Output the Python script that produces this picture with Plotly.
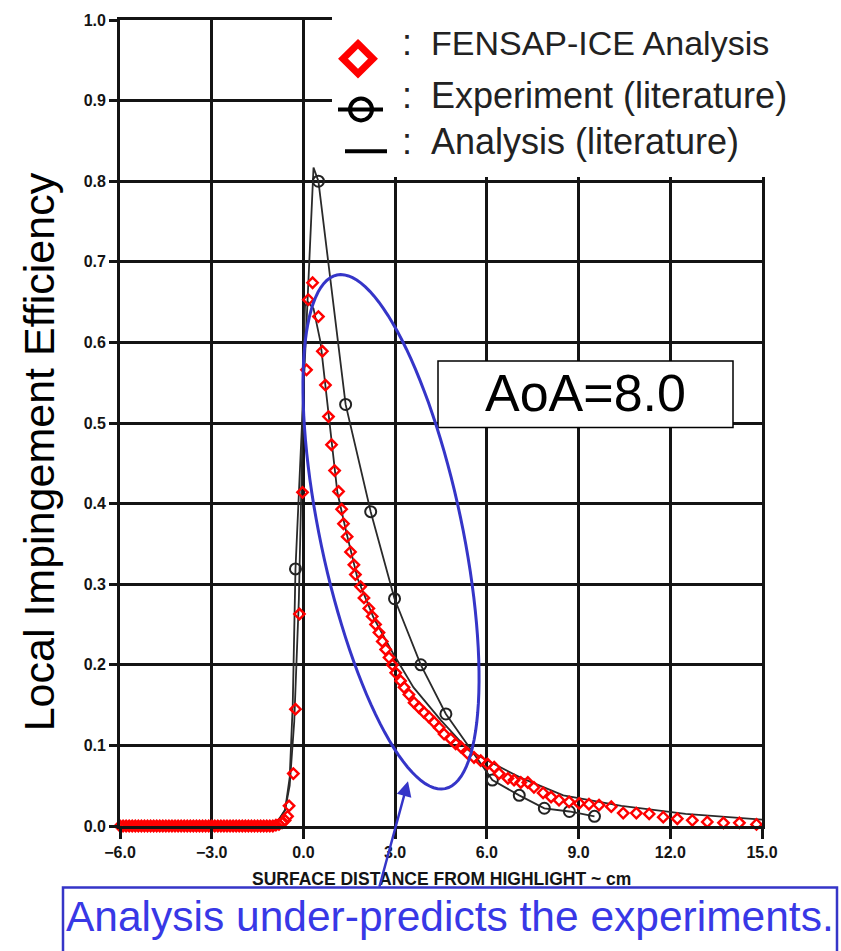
import math
import plotly.graph_objects as go

# ---------------- data ----------------
fensap_x = [-6.0, -5.9, -5.8, -5.7, -5.6, -5.5, -5.4, -5.3, -5.2, -5.1, -5.0, -4.9, -4.8, -4.7,
            -4.6, -4.5, -4.4, -4.3, -4.2, -4.1, -4.0, -3.9, -3.8, -3.7, -3.6, -3.5, -3.4, -3.3,
            -3.2, -3.1, -3.0, -2.9, -2.8, -2.7, -2.6, -2.5, -2.4, -2.3, -2.2, -2.1, -2.0, -1.9,
            -1.8, -1.7, -1.6, -1.5, -1.4, -1.3, -1.2, -1.1, -1.0, -0.9, -0.8, -0.7, -0.6, -0.52,
            -0.47, -0.33, -0.26, -0.13, -0.03, 0.1, 0.16, 0.3, 0.49, 0.62, 0.72, 0.82, 0.92,
            1.02, 1.15, 1.25, 1.31, 1.43, 1.54, 1.65, 1.70, 1.87, 1.98, 2.14, 2.25, 2.36, 2.47,
            2.58, 2.69, 2.80, 2.91, 3.02, 3.18, 3.29, 3.45, 3.62, 3.78, 3.94, 4.11, 4.27, 4.44,
            4.60, 4.82, 4.98, 5.15, 5.37, 5.58, 5.80, 6.02, 6.24, 6.4, 6.69, 6.89, 7.11, 7.34,
            7.54, 7.84, 8.1, 8.36, 8.69, 9.02, 9.34, 9.67, 10.07, 10.46, 10.89, 11.31, 11.77,
            12.23, 12.72, 13.21, 13.74, 14.26, 14.82]
fensap_y = [0.0, 0.0, 0.0, 0.0, 0.0, 0.0, 0.0, 0.0, 0.0, 0.0, 0.0, 0.0, 0.0, 0.0,
            0.0, 0.0, 0.0, 0.0, 0.0, 0.0, 0.0, 0.0, 0.0, 0.0, 0.0, 0.0, 0.0, 0.0,
            0.0, 0.0, 0.0, 0.0, 0.0, 0.0, 0.0, 0.0, 0.0, 0.0, 0.0, 0.0, 0.0, 0.0,
            0.0, 0.0, 0.0, 0.0, 0.0, 0.0, 0.0, 0.0, 0.0, 0.001, 0.002, 0.004, 0.007, 0.012,
            0.025, 0.065, 0.145, 0.263, 0.414, 0.566, 0.653, 0.674, 0.632, 0.589, 0.547, 0.508, 0.473,
            0.441, 0.415, 0.393, 0.375, 0.359, 0.340, 0.324, 0.312, 0.297, 0.283, 0.270, 0.260, 0.250, 0.240,
            0.229, 0.219, 0.209, 0.200, 0.190, 0.180, 0.172, 0.163, 0.153, 0.147, 0.141, 0.135, 0.129, 0.122,
            0.114, 0.108, 0.102, 0.098, 0.090, 0.085, 0.081, 0.077, 0.073, 0.065, 0.059, 0.057, 0.054, 0.054,
            0.048, 0.041, 0.036, 0.032, 0.030, 0.028, 0.027, 0.026, 0.024, 0.016, 0.016, 0.015, 0.011,
            0.009, 0.007, 0.005, 0.004, 0.004, 0.002]

exp_x = [-0.26, 0.49, 1.38, 2.2, 2.98, 3.84, 4.66, 6.18, 7.06, 7.88, 8.70, 9.52]
exp_y = [0.319, 0.800, 0.523, 0.390, 0.282, 0.200, 0.139, 0.057, 0.038, 0.022, 0.018, 0.012]

exp_line_x = [-1.3, -1.0, -0.8, -0.6, -0.45, -0.35, -0.26, 0.33, 0.49, 1.38, 2.2, 2.98,
              3.84, 4.66, 6.18, 7.06, 7.88, 8.70, 9.52]
exp_line_y = [0.0, 0.003, 0.008, 0.02, 0.06, 0.15, 0.319, 0.817, 0.800, 0.523, 0.390, 0.282,
              0.200, 0.139, 0.057, 0.038, 0.022, 0.018, 0.012]

ana_x = [-1.3, -1.0, -0.8, -0.6, -0.45, -0.3, -0.15, -0.05, 0.0, 0.05, 0.15, 0.33, 0.56, 0.8,
         1.11, 1.4, 1.77, 2.3, 2.95, 3.6, 4.5, 5.4, 6.03, 7.1, 8.5, 10.4, 12.5, 15.0]
ana_y = [0.0, 0.003, 0.008, 0.02, 0.05, 0.13, 0.28, 0.45, 0.58, 0.645, 0.65, 0.642, 0.6, 0.515,
         0.414, 0.365, 0.307, 0.258, 0.213, 0.172, 0.131, 0.094, 0.081, 0.060, 0.038, 0.025, 0.015, 0.008]

x_tick_vals = [-6, -3, 0, 3, 6, 9, 12, 15]
x_tick_text = ["\u22126.0", "\u22123.0", "0.0", "3.0", "6.0", "9.0", "12.0", "15.0"]
y_tick_vals = [0.0, 0.1, 0.2, 0.3, 0.4, 0.5, 0.6, 0.7, 0.8, 0.9, 1.0]
y_tick_text = ["0.0", "0.1", "0.2", "0.3", "0.4", "0.5", "0.6", "0.7", "0.8", "0.9", "1.0"]

legend_labels = ["FENSAP-ICE Analysis", "Experiment (literature)", "Analysis (literature)"]
y_title = "Local Impingement Efficiency"
x_title = "SURFACE DISTANCE FROM HIGHLIGHT ~ cm"
aoa_text = "AoA=8.0"
note_text = "Analysis under-predicts the experiments."

# ---------------- layout helpers ----------------
W, H = 841, 951
L, R, T, B = 120, 79, 15, 125


def px(p):
    return (p - L) / (W - L - R)


def py(p):
    return (H - B - p) / (H - T - B)


INK = "#141414"
BLUE = "#3535c8"
TBLUE = "#3838e6"
RED = "#ff0000"

fig = go.Figure()

fig.add_trace(go.Scatter(x=ana_x, y=ana_y, mode="lines",
                         line=dict(color="#2a2a2a", width=1.8), showlegend=False))
fig.add_trace(go.Scatter(x=exp_line_x, y=exp_line_y, mode="lines",
                         line=dict(color="#2a2a2a", width=1.8), showlegend=False))
fig.add_trace(go.Scatter(x=exp_x, y=exp_y, mode="markers",
                         marker=dict(symbol="circle-open", size=11, color="#222222",
                                     line=dict(width=2, color="#222222")),
                         showlegend=False))
fig.add_trace(go.Scatter(x=fensap_x, y=fensap_y, mode="markers", cliponaxis=False,
                         marker=dict(symbol="diamond-open", size=8, color=RED,
                                     line=dict(width=2.4, color=RED)),
                         showlegend=False))

shapes = []
# white legend area covering the grid
shapes.append(dict(type="rect", xref="paper", yref="paper", layer="above",
                   x0=px(332), x1=px(845), y0=py(173), y1=py(-5),
                   line=dict(width=0), fillcolor="white"))
# legend symbols
dcx, dcy, dh = 358, 54, 15
shapes.append(dict(type="path", xref="paper", yref="paper", layer="above",
                   path=f"M {px(dcx)} {py(dcy - dh)} L {px(dcx + dh)} {py(dcy)} L {px(dcx)} {py(dcy + dh)} L {px(dcx - dh)} {py(dcy)} Z",
                   line=dict(color=RED, width=7), fillcolor="rgba(0,0,0,0)"))
shapes.append(dict(type="line", xref="paper", yref="paper", layer="above",
                   x0=px(338), x1=px(383), y0=py(105), y1=py(105),
                   line=dict(color="black", width=4)))
shapes.append(dict(type="circle", xref="paper", yref="paper", layer="above",
                   x0=px(350), x1=px(372), y0=py(116), y1=py(94),
                   line=dict(color="black", width=4)))
shapes.append(dict(type="line", xref="paper", yref="paper", layer="above",
                   x0=px(345), x1=px(387), y0=py(147), y1=py(147),
                   line=dict(color="black", width=4)))
# AoA box
shapes.append(dict(type="rect", xref="paper", yref="paper", layer="above",
                   x0=px(438), x1=px(733), y0=py(425), y1=py(358),
                   line=dict(color="black", width=1.5), fillcolor="white"))
# ellipse
cx, cy, a, b = 391, 530, 264, 71
ang = math.atan2(54, 258)
ux, uy = math.sin(ang), math.cos(ang)
vx, vy = uy, -ux
pts = []
for i in range(121):
    t = 2 * math.pi * i / 120
    X = cx + a * math.cos(t) * ux + b * math.sin(t) * vx
    Y = cy + a * math.cos(t) * uy + b * math.sin(t) * vy
    pts.append(f"{px(X):.5f} {py(Y):.5f}")
shapes.append(dict(type="path", xref="paper", yref="paper", layer="above",
                   path="M " + " L ".join(pts) + " Z",
                   line=dict(color=BLUE, width=3)))
# note box
shapes.append(dict(type="rect", xref="paper", yref="paper", layer="above",
                   x0=px(63), x1=px(837), y0=py(965), y1=py(888),
                   line=dict(color=BLUE, width=2.5), fillcolor="white"))

annotations = []
row_y = [38, 91, 137.5]
row_size = [34, 36, 36]
for lab, ry, rs in zip(legend_labels, row_y, row_size):
    annotations.append(dict(xref="paper", yref="paper", x=px(407), y=py(ry), text=":",
                            showarrow=False, xanchor="center", yanchor="middle",
                            font=dict(family="Liberation Sans, Arial", size=36, color="#222222")))
    annotations.append(dict(xref="paper", yref="paper", x=px(429), y=py(ry), text=lab,
                            showarrow=False, xanchor="left", yanchor="middle",
                            font=dict(family="Liberation Sans, Arial", size=rs, color="#222222")))
annotations.append(dict(xref="paper", yref="paper", x=px(585.5), y=py(390), text=aoa_text,
                        showarrow=False, xanchor="center", yanchor="middle",
                        font=dict(family="Liberation Sans, Arial", size=52, color="black")))
annotations.append(dict(xref="paper", yref="paper", x=px(39), y=py(450), text=y_title,
                        textangle=-90, showarrow=False, xanchor="center", yanchor="middle",
                        font=dict(family="Liberation Sans, Arial", size=43, color="black")))
annotations.append(dict(xref="paper", yref="paper", x=px(442), y=py(879), text=x_title,
                        showarrow=False, xanchor="center", yanchor="middle",
                        font=dict(family="Liberation Sans, Arial", size=17.5, color=INK, weight="bold")))
annotations.append(dict(xref="paper", yref="paper", x=px(450), y=py(917), text=note_text,
                        showarrow=False, xanchor="center", yanchor="middle",
                        font=dict(family="Liberation Sans, Arial", size=42.5, color=TBLUE)))
annotations.append(dict(xref="paper", yref="paper", x=px(408), y=py(781), text="",
                        showarrow=True, ax=-29, ay=107, axref="pixel", ayref="pixel",
                        arrowhead=2, arrowsize=1.2, arrowwidth=2.5, arrowcolor=BLUE, standoff=0))

fig.update_layout(
    width=W, height=H,
    margin=dict(l=L, r=R, t=T, b=B, pad=0),
    paper_bgcolor="white", plot_bgcolor="white",
    showlegend=False,
    shapes=shapes,
    annotations=annotations,
    xaxis=dict(range=[-6, 15], tickvals=x_tick_vals, ticktext=x_tick_text,
               showgrid=True, gridcolor=INK, gridwidth=2.8, zeroline=False,
               showline=True, linecolor=INK, linewidth=2.8, mirror=True,
               ticks="outside", ticklen=10, tickwidth=2.8, tickcolor=INK,
               tickfont=dict(family="Liberation Sans, Arial", size=16, color=INK, weight="bold")),
    yaxis=dict(range=[0, 1], tickvals=y_tick_vals, ticktext=y_tick_text,
               showgrid=True, gridcolor=INK, gridwidth=2.8, zeroline=False,
               showline=True, linecolor=INK, linewidth=2.8, mirror=True,
               ticks="outside", ticklen=8, tickwidth=2.8, tickcolor=INK,
               tickfont=dict(family="Liberation Sans, Arial", size=16, color=INK, weight="bold")),
)

fig.write_html("out.html")
